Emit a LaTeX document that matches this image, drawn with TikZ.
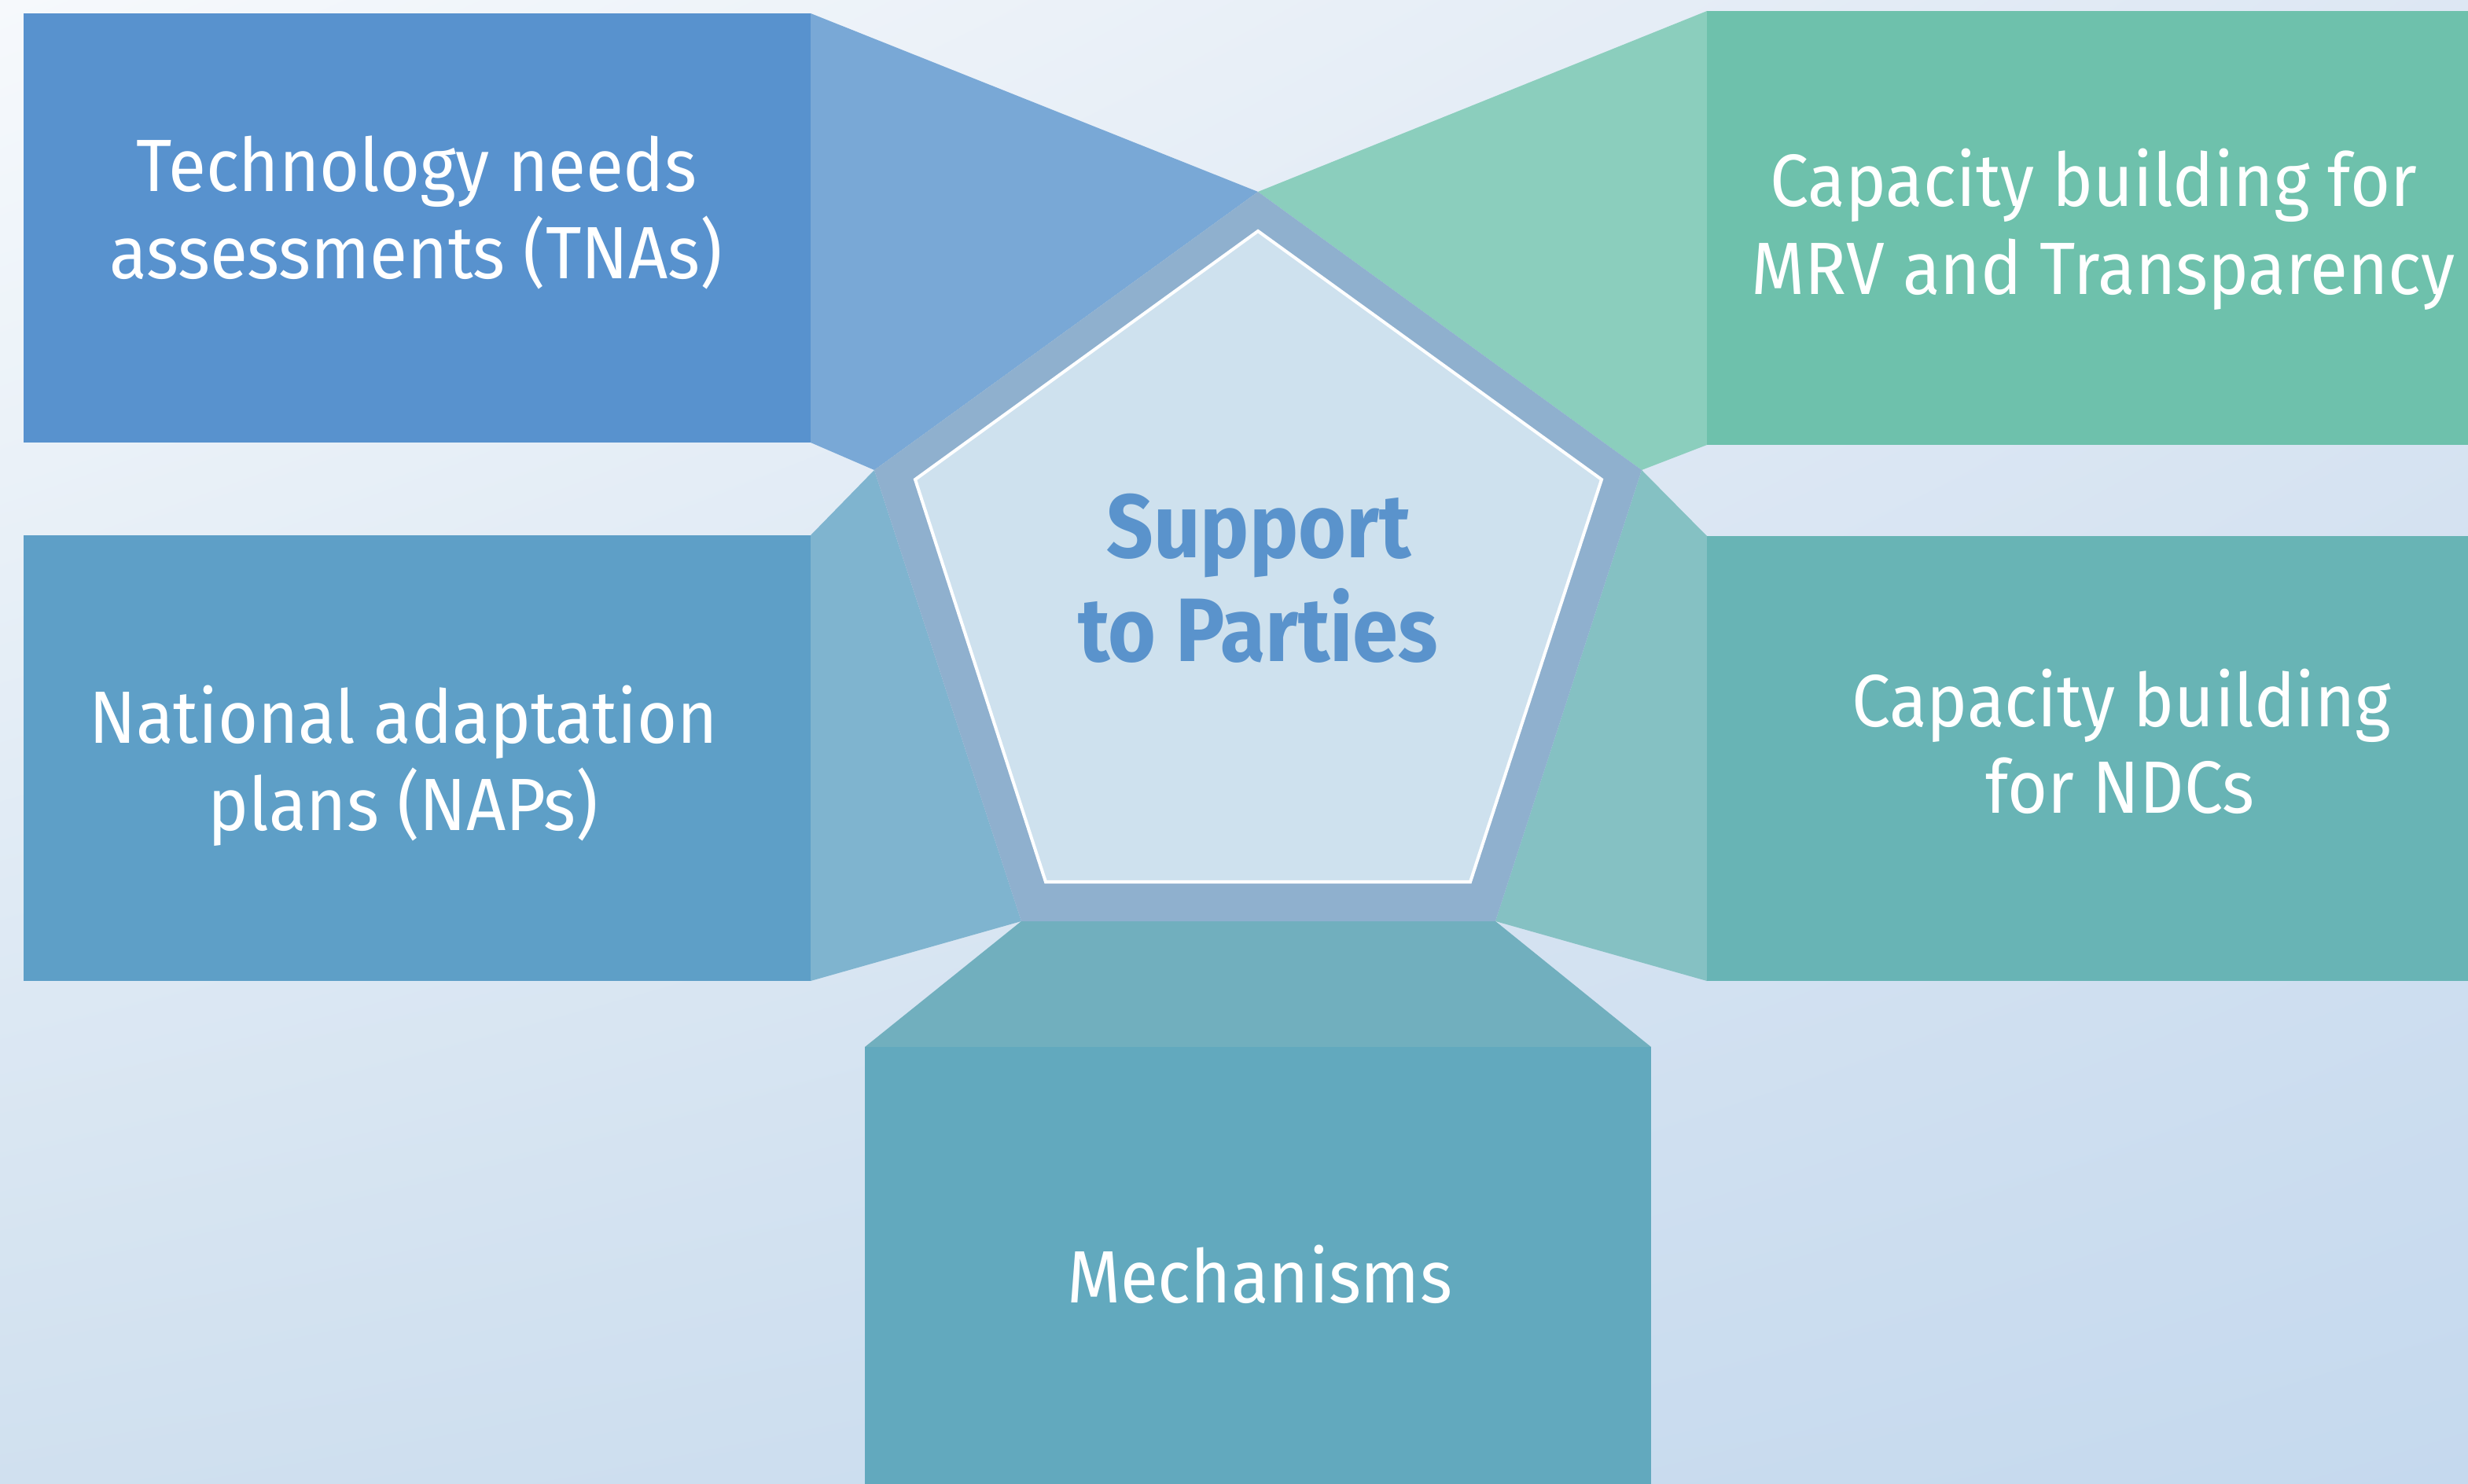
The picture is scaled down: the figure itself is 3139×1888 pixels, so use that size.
\documentclass[tikz,border=0pt]{standalone}
\usepackage{fontspec}
\setmainfont[FakeStretch=0.93]{Fira Sans}
\newfontfamily\titlefont[FakeStretch=0.91]{Fira Sans}
\usetikzlibrary{shadings}
\definecolor{bgTL}{HTML}{F6F9FC}
\definecolor{bgTR}{HTML}{DDE7F3}
\definecolor{bgBL}{HTML}{D0E0EF}
\definecolor{bgBR}{HTML}{C5D9EE}
\definecolor{tnabox}{HTML}{5892CE}
\definecolor{tnaside}{HTML}{79A8D6}
\definecolor{napbox}{HTML}{5E9FC7}
\definecolor{napside}{HTML}{7FB4CF}
\definecolor{mechbox}{HTML}{62A9BE}
\definecolor{mechside}{HTML}{71AFBE}
\definecolor{ndcbox}{HTML}{68B4B5}
\definecolor{ndcside}{HTML}{85C1C3}
\definecolor{mrvbox}{HTML}{6EC1AC}
\definecolor{mrvside}{HTML}{8BCEBD}
\definecolor{ringcol}{HTML}{8FB0CE}
\definecolor{innercol}{HTML}{CEE1EE}
\definecolor{titlecol}{HTML}{5A93CC}
\tikzset{
  lbl/.style={text=white, font=\fontsize{26.8}{32}\selectfont, anchor=base, inner sep=0pt},
  titlelbl/.style={text=titlecol, font=\titlefont\fontsize{32.6}{38}\selectfont\bfseries, anchor=base, inner sep=0pt},
}
\begin{document}
\begin{tikzpicture}[x=0.01cm,y=-0.01cm]
\useasboundingbox (0,0) rectangle (3139,1888);
\shade[upper left=bgTL, upper right=bgTR, lower left=bgBL, lower right=bgBR] (0,0) rectangle (3139,1888);
% side trapezoids
\fill[tnaside] (1031,17) -- (1600,244) -- (1112,598) -- (1031,563) -- cycle;
\fill[napside] (1031,681) -- (1112,598) -- (1299,1172) -- (1031,1248) -- cycle;
\fill[mrvside] (2171,14) -- (1600,244) -- (2088,598) -- (2171,566) -- cycle;
\fill[ndcside] (2171,682) -- (2088,598) -- (1902,1172) -- (2171,1248) -- cycle;
\fill[mechside] (1100,1332) -- (1299,1172) -- (1902,1172) -- (2100,1332) -- cycle;
% boxes
\fill[tnabox] (30,17) rectangle (1031,563);
\fill[napbox] (30,681) rectangle (1031,1248);
\fill[mrvbox] (2171,14) rectangle (3139,566);
\fill[ndcbox] (2171,682) rectangle (3139,1248);
\fill[mechbox] (1100,1332) rectangle (2100,1888);
% pentagon
\fill[ringcol] (1600,244) -- (2088,598) -- (1902,1172) -- (1299,1172) -- (1112,598) -- cycle;
\filldraw[fill=innercol, draw=white, line width=1.15pt, line join=miter]
  (1600,294) -- (2037,610) -- (1870,1122) -- (1330,1122) -- (1164,610) -- cycle;
% texts
\node[lbl] (tna1) at (530,244) {Technology needs};
\node[lbl] (tna2) at (529,354) {assessments (TNAs)};
\node[lbl] (nap1) at (513,945) {National adaptation};
\node[lbl] (nap2) at (513,1056) {plans (NAPs)};
\node[lbl] (mrv1) at (2663,263) {Capacity building for};
\node[lbl] (mrv2) at (2675,374) {MRV and Transparency};
\node[lbl] (ndc1) at (2698,924) {Capacity building};
\node[lbl] (ndc2) at (2696,1034) {for NDCs};
\node[lbl] (mech) at (1602,1657) {Mechanisms};
\node[titlelbl] (sup1) at (1601,709) {Support};
\node[titlelbl] (sup2) at (1600,841) {to Parties};
\end{tikzpicture}
\end{document}
